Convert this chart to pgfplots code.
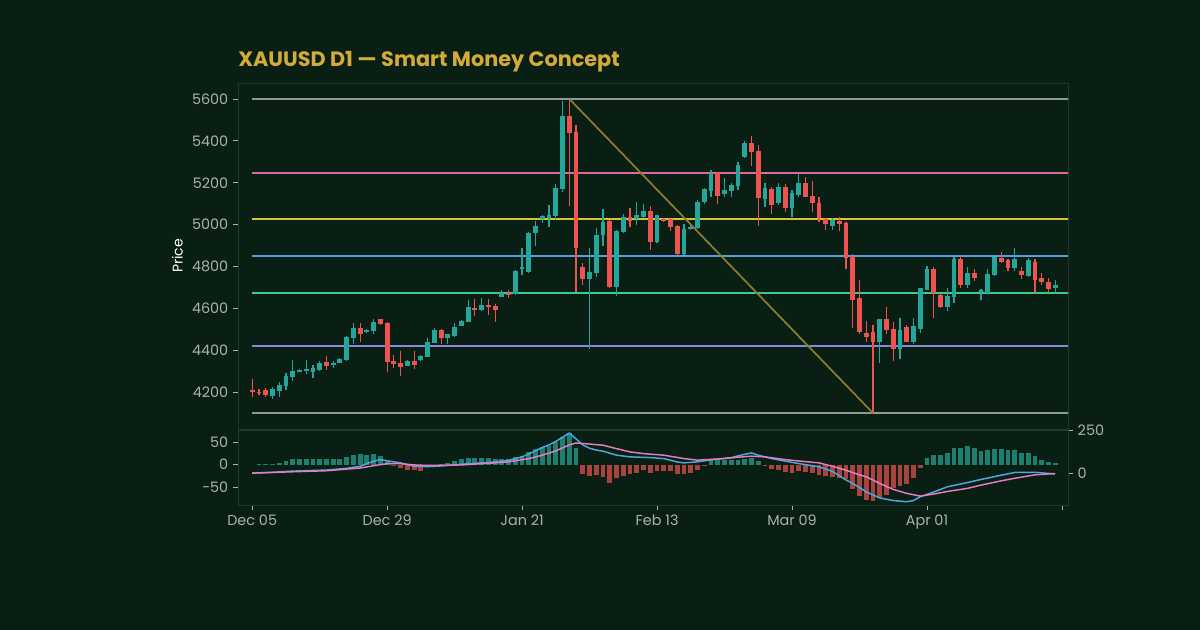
\documentclass[border=0pt]{standalone}
\usepackage{pgfplots}
\pgfplotsset{compat=1.18}
\usepackage{pgfplotstable}
\usepackage{fontspec}
\setmainfont{Poppins}
\definecolor{bg}{HTML}{0A1F14}
\definecolor{framec}{HTML}{1F3A2D}
\definecolor{labc}{HTML}{A9B3AE}
\definecolor{gold}{HTML}{D4AA3A}
\definecolor{upc}{HTML}{26A69A}
\definecolor{dnc}{HTML}{EF5350}
\definecolor{lvgray}{HTML}{8E9A95}
\definecolor{lvpink}{HTML}{E0689C}
\definecolor{lvyel}{HTML}{D6C232}
\definecolor{lvblue}{HTML}{5A9EE6}
\definecolor{lvgreen}{HTML}{3CC98A}
\definecolor{lvpurp}{HTML}{8A86D8}
\definecolor{diag}{HTML}{8C7C30}
\definecolor{macdc}{HTML}{4DA8E2}
\definecolor{sigc}{HTML}{E67CC2}

\pgfplotstableread{
i o h l c
3 4182 4225 4167 4214
4 4206 4247 4180 4235
5 4230 4294 4210 4278
6 4272 4355 4253 4303
7 4300 4310 4296 4305
8 4300 4355 4288 4310
9 4298 4330 4270 4315
10 4306 4350 4300 4341
12 4332 4350 4315 4342
13 4342 4362 4338 4358
14 4354 4468 4350 4462
15 4458 4530 4430 4509
17 4487 4500 4484 4497
18 4493 4552 4480 4537
23 4327 4352 4325 4349
25 4353 4377 4350 4373
26 4370 4460 4368 4439
27 4437 4505 4435 4497
29 4458 4480 4430 4478
30 4470 4530 4465 4513
31 4518 4545 4515 4542
32 4537 4640 4535 4606
34 4593 4650 4590 4617
37 4657 4690 4655 4676
39 4669 4782 4665 4779
40 4790 4889 4760 4800
41 4776 4965 4770 4959
42 4959 5017 4900 4995
43 5026 5045 5010 5042
44 5030 5093 4988 5045
45 5042 5193 5020 5177
46 5169 5591 5157 5519
50 4740 4887 4405 4776
51 4771 4985 4750 4951
52 4951 5075 4900 5014
54 4704 4975 4660 4970
55 4967 5050 4960 5038
57 5025 5110 5000 5045
58 5038 5100 5030 5065
60 4919 5048 4912 5046
64 4858 5005 4855 4979
65 4980 5000 4975 4990
66 4983 5120 4980 5110
67 5108 5175 5100 5172
68 5162 5260 5130 5245
70 5147 5225 5130 5166
71 5162 5200 5130 5190
72 5185 5300 5165 5285
73 5322 5400 5318 5392
76 5123 5200 5084 5174
78 5105 5200 5095 5181
80 5078 5165 5038 5150
81 5142 5240 5130 5200
86 4995 5030 4975 5023
93 4442 4548 4340 4548
96 4405 4555 4360 4497
98 4442 4555 4430 4517
99 4500 4700 4482 4696
100 4688 4803 4686 4787
103 4606 4700 4590 4660
104 4657 4845 4625 4835
106 4712 4800 4700 4768
108 4680 4693 4640 4686
109 4673 4788 4670 4763
110 4760 4848 4755 4845
113 4792 4890 4780 4835
115 4755 4840 4750 4829
119 4697 4735 4672 4712
}\up

\pgfplotstableread{
i o h l c
0 4211 4262 4178 4201
1 4203 4215 4188 4199
2 4211 4220 4177 4188
11 4345 4375 4305 4325
16 4509 4530 4440 4477
19 4548 4552 4520 4524
20 4529 4535 4299 4346
21 4350 4380 4316 4334
22 4338 4397 4280 4320
24 4350 4399 4312 4330
28 4497 4500 4430 4458
33 4604 4643 4565 4593
35 4617 4647 4570 4606
36 4613 4620 4537 4593
38 4675 4690 4650 4667
47 5519 5600 5090 5437
48 5444 5475 4680 4887
49 4800 4815 4712 4740
53 5017 5020 4700 4704
56 5038 5080 4990 5019
59 5065 5090 4880 4919
61 5028 5030 5015 5020
62 5027 5030 4970 4988
63 4995 5000 4854 4858
69 5245 5250 5100 5137
74 5392 5425 5280 5349
75 5353 5380 4994 5126
77 5170 5180 5050 5094
79 5182 5195 5060 5078
82 5198 5227 5130 5134
83 5137 5210 5060 5102
84 5102 5130 5015 5030
85 5026 5030 4975 5004
87 5019 5035 4970 5003
88 5010 5015 4788 4840
89 4850 4860 4505 4640
90 4649 4736 4480 4490
91 4482 4540 4440 4466
92 4490 4520 4100 4442
94 4548 4608 4480 4497
95 4500 4535 4350 4405
97 4513 4520 4440 4442
101 4787 4797 4553 4673
102 4664 4670 4600 4606
105 4835 4850 4700 4712
107 4768 4790 4730 4747
111 4840 4870 4818 4824
112 4829 4835 4778 4792
114 4781 4800 4740 4760
116 4824 4838 4672 4736
117 4744 4770 4710 4728
118 4728 4745 4672 4692
}\down

\pgfplotsset{
  base/.style={
    scale only axis, anchor=south west,
    xmin=-2.1, xmax=120.9,
    axis line style={draw=framec, line width=0.6pt},
    tick style={draw=labc, line width=0.6pt},
    major tick length=3.75pt, tick align=outside,
    ticklabel style={text=labc, font=\fontsize{10.8}{12}\selectfont},
    /pgf/number format/assume math mode=true,
    /pgf/number format/set thousands separator={},
  },
  wick/.style={draw=none, mark=none, forget plot,
    error bars/.cd, y dir=both, y explicit, error mark=none,
    error bar style={draw=#1, line width=0.9pt}},
  body/.style={draw=none, mark=none, forget plot,
    error bars/.cd, y dir=both, y explicit, error mark=none,
    error bar style={draw=#1, line width=3.6pt}},
  lvl/.style={color=#1, line width=1.4pt, forget plot},
}

\begin{document}
\begin{tikzpicture}
\fill[bg] (0,0) rectangle (900pt,472.5pt);
\node[anchor=west, text=gold, font=\bfseries\fontsize{15.6}{18}\selectfont, inner sep=0pt] at (178.5pt,426pt) {XAUUSD D1 — Smart Money Concept};

% main price panel
\begin{axis}[base,
  at={(178.5pt,150.75pt)}, width=622.5pt, height=259.5pt,
  ymin=4025, ymax=5676,
  ytick={4200,4400,...,5600}, xtick=\empty, ytick pos=left,
  ylabel={Price}, ylabel style={text=white, font=\fontsize{10.5}{12}\selectfont},
  clip=true]
\addplot[lvl=lvgray] coordinates {(0,5600) (121,5600)};
\addplot[lvl=lvpink] coordinates {(0,5247) (121,5247)};
\addplot[lvl=lvyel] coordinates {(0,5027) (121,5027)};
\addplot[lvl=lvblue] coordinates {(0,4850) (121,4850)};
\addplot[lvl=lvgreen] coordinates {(0,4674) (121,4674)};
\addplot[lvl=lvpurp] coordinates {(0,4420) (121,4420)};
\addplot[lvl=lvgray] coordinates {(0,4101) (121,4101)};
\addplot[color=diag, line width=1.3pt, forget plot] coordinates {(47,5600) (92,4101)};
\addplot[wick=upc] table[x=i, y expr={(\thisrow{h}+\thisrow{l})/2}, y error expr={(\thisrow{h}-\thisrow{l})/2}] {\up};
\addplot[wick=dnc] table[x=i, y expr={(\thisrow{h}+\thisrow{l})/2}, y error expr={(\thisrow{h}-\thisrow{l})/2}] {\down};
\addplot[body=upc] table[x=i, y expr={(\thisrow{o}+\thisrow{c})/2}, y error expr={max(abs(\thisrow{c}-\thisrow{o})/2,2.5)}] {\up};
\addplot[body=dnc] table[x=i, y expr={(\thisrow{o}+\thisrow{c})/2}, y error expr={max(abs(\thisrow{c}-\thisrow{o})/2,2.5)}] {\down};
\end{axis}

% MACD histogram panel (left axis)
\begin{axis}[base,
  at={(178.5pt,93.75pt)}, width=622.5pt, height=56.25pt,
  ymin=-90, ymax=77, ytick={-50,0,50}, ytick pos=left,
  xtick={0,20,...,120}, xticklabels={Dec 05,Dec 29,Jan 21,Feb 13,Mar 09,Apr 01,{}},
  xtick pos=bottom]
\addplot[ycomb, draw=upc!70!bg, line width=3.6pt, mark=none] coordinates {
(1,1) (2,1) (3,2) (4,4) (5,9) (6,12) (7,13) (8,13) (9,13) (10,13) (11,13) (12,13) (13,13) (14,16) (15,21) (16,24) (17,22) (18,24) (19,20) (20,8)
(28,1) (29,3) (30,7) (31,12) (32,14) (33,15) (34,15) (35,14) (36,13) (37,13) (38,13) (39,16) (40,20) (41,29) (42,35) (43,40) (44,42) (45,50) (46,62) (47,71) (48,37)
(68,11) (69,11) (70,11) (71,11) (72,11) (73,12) (74,15) (75,7)
(100,15) (101,22) (102,22) (103,26) (104,37) (105,37) (106,41) (107,37) (108,30) (109,33) (110,35) (111,35) (112,33) (113,32) (114,26) (115,26) (116,19) (117,11) (118,5) (119,4)
};
\addplot[ycomb, draw=dnc!70!bg, line width=3.6pt, mark=none] coordinates {
(21,-2) (22,-7) (23,-11) (24,-13) (25,-14) (26,-6) (27,-1)
(49,-20) (50,-26) (51,-24) (52,-28) (53,-41) (54,-31) (55,-26) (56,-22) (57,-19) (58,-13) (59,-19) (60,-15) (61,-15) (62,-15) (63,-22) (64,-22) (65,-19) (66,-11) (67,-1)
(76,-1) (77,-10) (78,-11) (79,-17) (80,-19) (81,-15) (82,-17) (83,-19) (84,-24) (85,-26) (86,-27) (87,-30) (88,-33) (89,-55) (90,-70) (91,-78) (92,-81) (93,-74) (94,-67) (95,-52) (96,-48) (97,-44) (98,-30) (99,-7)
};
\end{axis}

% MACD lines (right axis)
\begin{axis}[base,
  at={(178.5pt,93.75pt)}, width=622.5pt, height=56.25pt,
  ymin=-186, ymax=252, ytick={0,250}, axis y line*=right, axis x line=none,
  xtick=\empty]
\addplot[color=macdc, line width=1.1pt, mark=none] coordinates {
(0,0) (3,5) (6,12) (11,18) (14,28) (16,40) (18,70) (19,79) (20,72) (22,60) (24,40) (26,38) (28,42) (31,52) (34,60) (36,66) (38,75) (40,95) (41,112) (43,150) (44,165) (45,185) (46,210) (47,234) (48,200) (49,165) (50,145) (51,135) (52,128) (54,105) (56,95) (59,91) (61,85) (63,65) (64,60) (66,66) (68,78) (71,91) (73,110) (74,118) (75,105) (77,85) (79,70) (81,56) (84,37) (86,10) (88,-40) (89,-60) (91,-109) (93,-145) (95,-160) (97,-167) (98,-160) (99,-138) (101,-110) (103,-80) (106,-55) (108,-37) (111,-12) (113,4) (116,5) (119,-5)
};
\addplot[color=sigc, line width=1.1pt, mark=none] coordinates {
(0,0) (6,8) (11,14) (16,30) (19,50) (20,55) (22,55) (24,48) (26,45) (28,45) (31,48) (34,55) (36,60) (38,66) (41,85) (43,105) (45,130) (47,165) (48,176) (50,170) (52,163) (54,143) (56,124) (58,114) (61,105) (64,85) (66,76) (70,85) (72,93) (74,99) (76,95) (79,79) (81,71) (84,60) (86,40) (88,17) (90,-10) (91,-21) (93,-60) (95,-95) (97,-118) (99,-134) (101,-122) (103,-107) (106,-89) (108,-70) (111,-45) (113,-30) (116,-10) (119,-2)
};
\end{axis}
\end{tikzpicture}
\end{document}
